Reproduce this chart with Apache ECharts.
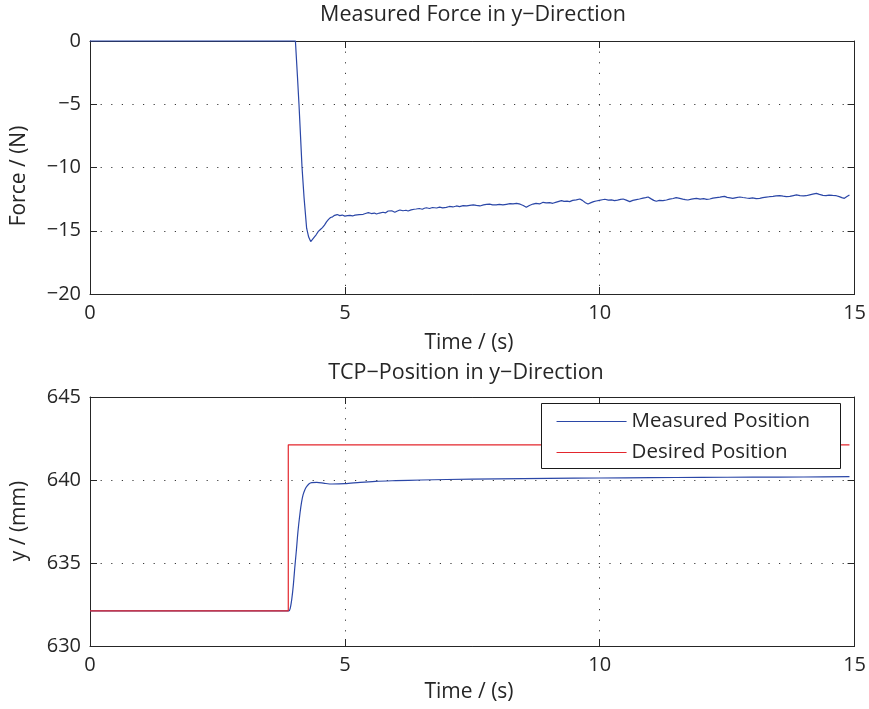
<!DOCTYPE html>
<html>
<head>
<meta charset="utf-8">
<title>Force and TCP position</title>
<script src="https://cdn.jsdelivr.net/npm/echarts@6/dist/echarts.min.js"></script>
<style>
  html, body { margin: 0; padding: 0; background: #fff; }
  #chart { width: 869px; height: 709px; }
</style>
</head>
<body>
<div id="chart"></div>
<script>
// Time axis ticks (s)
const timeTicks = [0, 5, 10, 15];
const forceTicks = [-20, -15, -10, -5, 0];
const positionTicks = [630, 635, 640, 645];

// Measured force in y-direction: [time (s), force (N)]
const forcePoints = [
  [0, 0], [4.03, 0], [4.07, -2.8], [4.10, -5.0], [4.13, -7.5], [4.16, -10.0], [4.20, -12.4],
  [4.25, -14.8], [4.29, -15.5], [4.33, -15.85], [4.36, -15.7], [4.40, -15.5], [4.44, -15.3],
  [4.48, -15.05], [4.52, -14.9], [4.56, -14.75], [4.60, -14.55], [4.64, -14.3], [4.68, -14.1],
  [4.72, -13.95], [4.76, -13.9], [4.80, -13.78], [4.85, -13.72], [4.90, -13.8], [4.95, -13.76],
  [5.00, -13.84], [5.05, -13.8], [5.10, -13.78], [5.15, -13.83], [5.20, -13.76], [5.28, -13.72],
  [5.36, -13.7], [5.42, -13.62], [5.46, -13.57], [5.52, -13.64], [5.58, -13.6], [5.62, -13.68],
  [5.68, -13.6], [5.75, -13.54], [5.80, -13.58], [5.85, -13.44], [5.88, -13.36], [5.92, -13.42],
  [5.98, -13.54], [6.03, -13.44], [6.08, -13.36], [6.14, -13.42], [6.20, -13.38], [6.24, -13.44],
  [6.30, -13.35], [6.36, -13.3], [6.40, -13.28], [6.46, -13.24], [6.52, -13.3], [6.56, -13.22],
  [6.60, -13.18], [6.66, -13.24], [6.72, -13.16], [6.80, -13.2], [6.86, -13.13], [6.92, -13.19],
  [6.99, -13.15], [7.05, -13.08], [7.12, -13.12], [7.19, -13.04], [7.25, -13.09], [7.32, -13.02],
  [7.39, -13.04], [7.45, -12.99], [7.52, -12.96], [7.58, -13.0], [7.65, -13.04], [7.72, -12.95],
  [7.78, -12.92], [7.84, -12.89], [7.90, -12.95], [7.97, -12.96], [8.03, -12.92], [8.10, -12.96],
  [8.17, -12.91], [8.24, -12.86], [8.30, -12.88], [8.37, -12.83], [8.44, -12.9], [8.50, -13.0],
  [8.56, -13.15], [8.62, -13.0], [8.69, -12.89], [8.75, -12.84], [8.82, -12.88], [8.89, -12.75],
  [8.95, -12.8], [9.02, -12.78], [9.08, -12.83], [9.15, -12.74], [9.20, -12.68], [9.25, -12.62],
  [9.30, -12.68], [9.36, -12.66], [9.41, -12.7], [9.47, -12.6], [9.54, -12.56], [9.61, -12.49],
  [9.66, -12.6], [9.72, -12.78], [9.77, -12.89], [9.83, -12.78], [9.88, -12.7], [9.93, -12.65],
  [9.99, -12.6], [10.05, -12.55], [10.10, -12.51], [10.17, -12.58], [10.23, -12.56], [10.29, -12.62],
  [10.35, -12.58], [10.41, -12.52], [10.46, -12.49], [10.52, -12.58], [10.59, -12.7], [10.65, -12.6],
  [10.72, -12.54], [10.78, -12.49], [10.85, -12.42], [10.90, -12.38], [10.95, -12.33], [11.01, -12.48],
  [11.06, -12.6], [11.11, -12.67], [11.17, -12.6], [11.24, -12.62], [11.31, -12.57], [11.37, -12.5],
  [11.44, -12.45], [11.50, -12.38], [11.57, -12.44], [11.63, -12.5], [11.68, -12.54], [11.73, -12.57],
  [11.80, -12.5], [11.86, -12.46], [11.90, -12.44], [11.97, -12.5], [12.04, -12.46], [12.10, -12.52],
  [12.16, -12.49], [12.22, -12.42], [12.29, -12.38], [12.36, -12.34], [12.41, -12.3], [12.45, -12.28],
  [12.50, -12.36], [12.56, -12.4], [12.61, -12.44], [12.68, -12.38], [12.75, -12.33], [12.81, -12.37],
  [12.88, -12.41], [12.94, -12.44], [13.00, -12.4], [13.07, -12.46], [13.14, -12.44], [13.20, -12.38],
  [13.27, -12.34], [13.33, -12.31], [13.40, -12.28], [13.46, -12.25], [13.53, -12.23], [13.60, -12.27],
  [13.66, -12.3], [13.73, -12.28], [13.80, -12.22], [13.86, -12.17], [13.93, -12.22], [14.00, -12.25],
  [14.05, -12.23], [14.12, -12.16], [14.18, -12.1], [14.25, -12.04], [14.31, -12.12], [14.38, -12.2],
  [14.44, -12.23], [14.50, -12.18], [14.57, -12.21], [14.64, -12.23], [14.70, -12.3], [14.75, -12.38],
  [14.80, -12.44], [14.85, -12.3], [14.90, -12.17]
];

// Measured TCP position in y-direction: [time (s), y (mm)]
const measuredPosition = [
  [0, 632.12], [3.90, 632.12], [3.93, 632.3], [3.96, 632.85], [3.99, 633.7], [4.02, 634.8],
  [4.05, 635.8], [4.08, 636.9], [4.12, 638.0], [4.15, 638.65], [4.18, 639.1], [4.22, 639.45],
  [4.26, 639.64], [4.30, 639.78], [4.35, 639.84], [4.45, 639.86], [4.60, 639.8], [4.75, 639.76],
  [5.00, 639.78], [5.30, 639.86], [5.60, 639.92], [6.00, 639.96], [6.50, 640.0], [7.00, 640.03],
  [8.00, 640.07], [9.00, 640.1], [10.00, 640.12], [11.00, 640.14], [12.00, 640.16], [13.00, 640.17],
  [14.00, 640.18], [14.90, 640.2]
];

// Desired TCP position: step command
const desiredPosition = [
  [0, 632.12], [3.89, 632.12], [3.89, 642.12], [14.90, 642.12]
];

const FONT = '"Open Sans", "Noto Sans", sans-serif';
const INK = '#262626';
const BLUE = '#2b47a7';
const RED = '#e3262d';

const fmt = v => String(v).replace('-', '\u2212');

function frameAxis(gridIndex, pos, range, ticks, showLabel) {
  return {
    type: 'value',
    gridIndex: gridIndex,
    position: pos,
    min: range[0],
    max: range[1],
    interval: ticks[1] - ticks[0],
    axisLine: { show: true, onZero: false, lineStyle: { color: INK, width: 1 } },
    axisTick: { show: true, inside: true, length: 7, lineStyle: { color: INK, width: 1 } },
    axisLabel: {
      show: showLabel,
      fontSize: 20,
      fontFamily: FONT,
      color: INK,
      margin: 9,
      formatter: fmt
    },
    splitLine: {
      show: showLabel,
      lineStyle: { color: '#3a3a3a', width: 1, type: [1.2, 9.4] }
    }
  };
}

const grids = [
  { left: 90, top: 41, width: 765, height: 253 },
  { left: 90, top: 397, width: 765, height: 249 }
];

const xRange = [timeTicks[0], timeTicks[timeTicks.length - 1]];
const fRange = [forceTicks[0], forceTicks[forceTicks.length - 1]];
const pRange = [positionTicks[0], positionTicks[positionTicks.length - 1]];

const chart = echarts.init(document.getElementById('chart'), null, { renderer: 'canvas' });

const textStyle = (text, size) => ({
  text: text,
  font: size + 'px ' + FONT,
  fill: INK,
  textAlign: 'center',
  textVerticalAlign: 'middle'
});

chart.setOption({
  animation: false,
  backgroundColor: '#fff',
  grid: grids,
  xAxis: [
    frameAxis(0, 'bottom', xRange, timeTicks, true),
    frameAxis(0, 'top', xRange, timeTicks, false),
    frameAxis(1, 'bottom', xRange, timeTicks, true),
    frameAxis(1, 'top', xRange, timeTicks, false)
  ],
  yAxis: [
    frameAxis(0, 'left', fRange, forceTicks, true),
    frameAxis(0, 'right', fRange, forceTicks, false),
    frameAxis(1, 'left', pRange, positionTicks, true),
    frameAxis(1, 'right', pRange, positionTicks, false)
  ],
  legend: {
    data: ['Measured Position', 'Desired Position'],
    orient: 'vertical',
    left: 556,
    top: 411,
    itemWidth: 70,
    itemHeight: 20,
    itemGap: 10,
    padding: 0,
    z: 10,
    itemStyle: { opacity: 0, borderWidth: 0 },
    lineStyle: { width: 1.1 },
    textStyle: { fontSize: 20.5, fontFamily: FONT, color: INK }
  },
  graphic: [
    { type: 'rect', z: 5, shape: { x: 541.5, y: 403.5, width: 299, height: 65 },
      style: { fill: '#fff', stroke: '#1a1a1a', lineWidth: 1 } },
    { type: 'text', x: 473, y: 15, style: textStyle('Measured Force in y\u2212Direction', 21.5) },
    { type: 'text', x: 469, y: 343, style: textStyle('Time / (s)', 21) },
    { type: 'text', x: 19, y: 176, rotation: Math.PI / 2, style: textStyle('Force / (N)', 21) },
    { type: 'text', x: 466, y: 373, style: textStyle('TCP\u2212Position in y\u2212Direction', 21.5) },
    { type: 'text', x: 469, y: 692, style: textStyle('Time / (s)', 21) },
    { type: 'text', x: 19, y: 521, rotation: Math.PI / 2, style: textStyle('y / (mm)', 21) }
  ],
  series: [
    {
      name: 'Measured Force',
      type: 'line',
      xAxisIndex: 0,
      yAxisIndex: 0,
      data: forcePoints,
      symbol: 'none',
      clip: false,
      lineStyle: { color: BLUE, width: 1.2 },
      itemStyle: { color: BLUE }
    },
    {
      name: 'Measured Position',
      type: 'line',
      xAxisIndex: 2,
      yAxisIndex: 2,
      data: measuredPosition,
      symbol: 'none',
      smooth: 0.3,
      lineStyle: { color: BLUE, width: 1.2 },
      itemStyle: { color: BLUE }
    },
    {
      name: 'Desired Position',
      type: 'line',
      xAxisIndex: 2,
      yAxisIndex: 2,
      data: desiredPosition,
      symbol: 'none',
      lineStyle: { color: RED, width: 1.2 },
      itemStyle: { color: RED }
    }
  ]
});
</script>
</body>
</html>
